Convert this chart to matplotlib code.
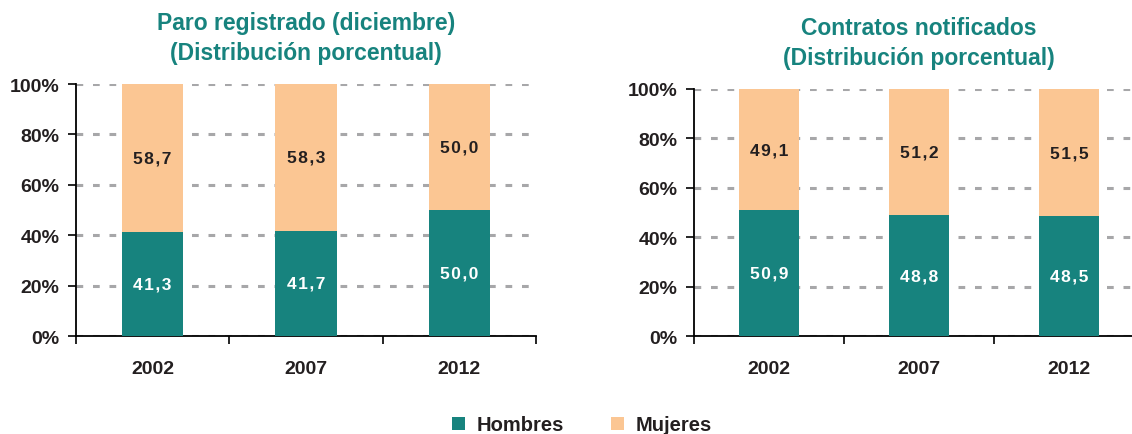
import matplotlib
matplotlib.use("Agg")
import matplotlib.pyplot as plt
from matplotlib.patches import Patch
import numpy as np

plt.rcParams['font.family'] = ['Liberation Sans', 'DejaVu Sans']
plt.rcParams['font.weight'] = 'bold'

years = ["2002", "2007", "2012"]
paro_hombres = [41.3, 41.7, 50.0]
paro_mujeres = [58.7, 58.3, 50.0]
contratos_hombres = [50.9, 48.8, 48.5]
contratos_mujeres = [49.1, 51.2, 51.5]
yticks = [0, 20, 40, 60, 80, 100]
titles = ["Paro registrado (diciembre)\n(Distribución porcentual)",
          "Contratos notificados\n(Distribución porcentual)"]
series_names = ["Hombres", "Mujeres"]

TEAL = "#17837e"
ORANGE = "#fbc693"
DARK = "#231f20"
GRID = "#a7a7a9"

W, H = 1132, 435
fig = plt.figure(figsize=(W / 100, H / 100), dpi=100)

def px_axes(x0, x1, ytop, ybot):
    return [x0 / W, 1 - ybot / H, (x1 - x0) / W, (ybot - ytop) / H]

axes = [fig.add_axes(px_axes(76, 536, 85, 337)),
        fig.add_axes(px_axes(694, 1144, 90, 337))]
data = [(paro_hombres, paro_mujeres), (contratos_hombres, contratos_mujeres)]

def fmt(v):
    return "\u200a".join(f"{v:.1f}".replace(".", ","))

for ax, (hom, muj), title in zip(axes, data, titles):
    x = np.arange(len(years))
    ax.bar(x, hom, width=0.40, color=TEAL, zorder=3)
    ax.bar(x, muj, width=0.40, bottom=hom, color=ORANGE, zorder=3)
    for xi, h, m in zip(x, hom, muj):
        ax.text(xi, h / 2, fmt(h), ha='center', va='center', color='white',
                fontsize=12.5, fontweight='bold', zorder=4)
        ax.text(xi, h + m / 2, fmt(m), ha='center', va='center', color=DARK,
                fontsize=12.5, fontweight='bold', zorder=4)
    ax.set_xlim(-0.5, 2.5)
    ax.set_ylim(0, 100)
    ax.set_yticks(yticks)
    ax.set_yticklabels([f"{t}%" for t in yticks], fontsize=14,
                       fontweight='bold', color=DARK)
    ax.set_xticks(x)
    ax.set_xticklabels(years, fontsize=14, fontweight='bold', color=DARK)
    ax.tick_params(axis='x', which='major', length=0, pad=17)
    ax.set_xticks([-0.5, 0.5, 1.5, 2.5], minor=True)
    ax.tick_params(axis='x', which='minor', length=6, width=1.2, color='black', direction='out')
    ax.tick_params(axis='y', length=6, width=1.2, color='black', pad=6)
    for s in ['top', 'right']:
        ax.spines[s].set_visible(False)
    for s in ['left', 'bottom']:
        ax.spines[s].set_linewidth(1.3)
        ax.spines[s].set_color('black')
    ax.yaxis.grid(True, color=GRID, linestyle=(0, (2.2, 3.2)), linewidth=2.2, zorder=1)
    ax.set_axisbelow(True)
    ax.set_title(title, color=TEAL, fontsize=16.5, fontweight='bold',
                 pad=18, linespacing=1.4)

handles = [Patch(facecolor=TEAL), Patch(facecolor=ORANGE)]
fig.legend(handles, series_names, loc='center', bbox_to_anchor=(582 / W, 1 - 426 / H),
           ncol=2, frameon=False, handlelength=0.65, handleheight=0.65,
           columnspacing=2.3, handletextpad=0.6,
           prop={'weight': 'bold', 'size': 14.5})
for t in fig.legends[0].get_texts():
    t.set_color(DARK)

fig.savefig("out.png", dpi=100)
